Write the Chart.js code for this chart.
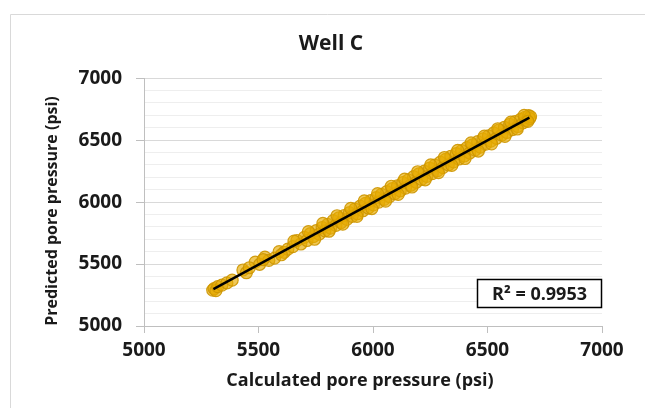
<!DOCTYPE html>
<html>
<head>
<meta charset="utf-8">
<title>Well C</title>
<script src="https://cdn.jsdelivr.net/npm/chart.js@4/dist/chart.umd.min.js"></script>
<style>
    html, body { margin: 0; padding: 0; background: #ffffff; }
    #wrap { width: 645px; height: 408px; position: relative; }
</style>
</head>
<body>
<div id="wrap"><canvas id="chart" width="645" height="408"></canvas></div>
<script>
// ====== Data ======
const calculated = [
    5300, 5306, 5314, 5322, 5340, 5362, 5385, 5432, 5447, 5486,
    5505, 5528, 5545, 5570, 5590, 5612, 5628, 5650, 5668, 5685,
    5700, 5712, 5726, 5740, 5752, 5765, 5778, 5790, 5802, 5815,
    5826, 5838, 5850, 5861, 5874, 5886, 5897, 5909, 5921, 5932,
    5944, 5956, 5967, 5979, 5990, 6002, 6014, 6025, 6037, 6049,
    6060, 6072, 6084, 6095, 6107, 6119, 6130, 6142, 6154, 6165,
    6177, 6189, 6200, 6212, 6224, 6235, 6247, 6259, 6270, 6282,
    6294, 6305, 6317, 6329, 6340, 6352, 6364, 6375, 6387, 6399,
    6410, 6422, 6434, 6445, 6457, 6469, 6480, 6492, 6504, 6515,
    6527, 6539, 6550, 6562, 6574, 6585, 6597, 6609, 6620, 6632,
    6644, 6655, 6664, 6672, 6680, 6684, 6688,
    5718, 5745, 5781, 5808, 5843, 5868, 5903, 5930, 5962, 5995,
    6020, 6055, 6080, 6110, 6138, 6170, 6195, 6228, 6252, 6286,
    6312, 6344, 6370, 6402, 6428, 6460, 6486, 6518, 6545, 6576,
    6602, 6630, 6660, 6676, 5600, 5655, 5520, 5460
];
const predicted = [
    5290, 5302, 5285, 5318, 5330, 5348, 5370, 5452, 5430, 5516,
    5498, 5556, 5530, 5548, 5600, 5595, 5620, 5640, 5690, 5662,
    5715, 5690, 5745, 5722, 5770, 5741, 5795, 5768, 5820, 5790,
    5850, 5812, 5872, 5835, 5892, 5861, 5915, 5885, 5944, 5906,
    5968, 5930, 5990, 5952, 6012, 5978, 6036, 6000, 6062, 6022,
    6085, 6044, 6108, 6068, 6132, 6090, 6158, 6113, 6180, 6136,
    6205, 6160, 6228, 6183, 6250, 6208, 6275, 6230, 6298, 6254,
    6322, 6278, 6345, 6300, 6370, 6325, 6392, 6348, 6416, 6372,
    6440, 6396, 6462, 6420, 6488, 6444, 6510, 6468, 6535, 6492,
    6558, 6515, 6582, 6540, 6604, 6562, 6628, 6585, 6650, 6610,
    6668, 6640, 6685, 6660, 6698, 6675, 6690,
    5762, 5700, 5828, 5765, 5890, 5822, 5950, 5885, 6010, 5948,
    6068, 6008, 6128, 6062, 6186, 6122, 6245, 6180, 6300, 6238,
    6360, 6296, 6418, 6352, 6478, 6412, 6532, 6470, 6592, 6530,
    6645, 6590, 6700, 6652, 5575, 5685, 5535, 5470
];
const trendX = [5303, 6683];
const trendY = [5297, 6682];
const rSquared = '0.9953';
const axisMin = 5000;
const axisMax = 7000;

// ====== Styles ======
const FONT = '"Open Sans", "DejaVu Sans", sans-serif';
const TEXT = '#1a1a1a';
const GRID_MAJOR = '#d9d9d9';
const GRID_MINOR = '#eeeeee';
const AXIS_LINE = '#bfbfbf';

// frame, axis titles and the R² label box
const decorations = {
    id: 'decorations',
    beforeDraw(chart) {
        const c = chart.ctx;
        c.save();
        c.strokeStyle = '#d9d9d9';
        c.lineWidth = 1;
        c.beginPath();
        c.moveTo(10.5, chart.height);
        c.lineTo(10.5, 14.5);
        c.lineTo(chart.width, 14.5);
        c.stroke();
        c.restore();
    },
    afterDraw(chart) {
        const c = chart.ctx;
        const area = chart.chartArea;
        c.save();
        c.fillStyle = TEXT;
        c.textAlign = 'center';
        c.textBaseline = 'middle';

        c.font = 'bold 18px ' + FONT;
        c.fillText('Calculated pore pressure (psi)', 360, 381);

        c.save();
        c.translate(52, 211);
        c.rotate(-Math.PI / 2);
        c.font = 'bold 16px ' + FONT;
        c.fillText('Predicted pore pressure (psi)', 0, 0);
        c.restore();

        // R² box sits in the lower right corner of the plot
        const bw = 125, bh = 29;
        const bx = area.right - bw, by = area.bottom - 47;
        c.fillStyle = '#ffffff';
        c.fillRect(bx, by, bw, bh);
        c.strokeStyle = '#000000';
        c.lineWidth = 1.5;
        c.strokeRect(bx + 0.5, by + 0.5, bw - 1, bh - 1);
        c.fillStyle = TEXT;
        c.font = 'bold 18px ' + FONT;
        c.fillText('R² = ' + rSquared, bx + bw / 2, by + bh / 2 + 1);
        c.restore();
    }
};

const points = calculated.map((x, i) => ({ x, y: predicted[i] }));
const trend = trendX.map((x, i) => ({ x, y: trendY[i] }));

new Chart(document.getElementById('chart'), {
    type: 'scatter',
    data: {
        datasets: [
            {
                type: 'line',
                label: 'Linear',
                data: trend,
                borderColor: '#000000',
                borderWidth: 2.5,
                pointRadius: 0,
                fill: false,
                order: 0
            },
            {
                label: 'Well C',
                data: points,
                backgroundColor: 'rgba(230, 170, 0, 0.65)',
                borderColor: 'rgba(205, 150, 0, 0.9)',
                borderWidth: 1.2,
                pointRadius: 6,
                order: 1
            }
        ]
    },
    options: {
        responsive: false,
        animation: false,
        layout: { padding: { left: 60, right: 43, top: 0, bottom: 0 } },
        plugins: {
            legend: { display: false },
            tooltip: { enabled: false },
            title: {
                display: true,
                text: 'Well C',
                color: TEXT,
                font: { family: FONT, size: 21, weight: 'bold' },
                padding: { top: 31, bottom: 22 }
            }
        },
        scales: {
            x: {
                type: 'linear',
                min: axisMin,
                max: axisMax,
                afterFit: (scale) => { scale.height = 82; },
                border: { color: AXIS_LINE, width: 1 },
                grid: {
                    drawOnChartArea: false,
                    drawTicks: true,
                    tickLength: 7,
                    tickColor: AXIS_LINE
                },
                ticks: {
                    stepSize: 500,
                    padding: 6,
                    color: TEXT,
                    font: { family: FONT, size: 19, weight: 'bold' },
                    callback: (v) => String(v)
                }
            },
            y: {
                type: 'linear',
                min: axisMin,
                max: axisMax,
                afterFit: (scale) => { scale.width = 84; },
                border: { color: AXIS_LINE, width: 1 },
                grid: {
                    color: (ctx) => (ctx.tick && ctx.tick.value % 500 === 0) ? GRID_MAJOR : GRID_MINOR,
                    tickColor: (ctx) => (ctx.tick && ctx.tick.value % 500 === 0) ? AXIS_LINE : 'rgba(0,0,0,0)',
                    tickLength: 8,
                    lineWidth: 1
                },
                ticks: {
                    stepSize: 100,
                    autoSkip: false,
                    padding: 14,
                    color: TEXT,
                    font: { family: FONT, size: 19, weight: 'bold' },
                    callback: (v) => (v % 500 === 0 ? String(v) : '')
                }
            }
        }
    },
    plugins: [decorations]
});
</script>
</body>
</html>
